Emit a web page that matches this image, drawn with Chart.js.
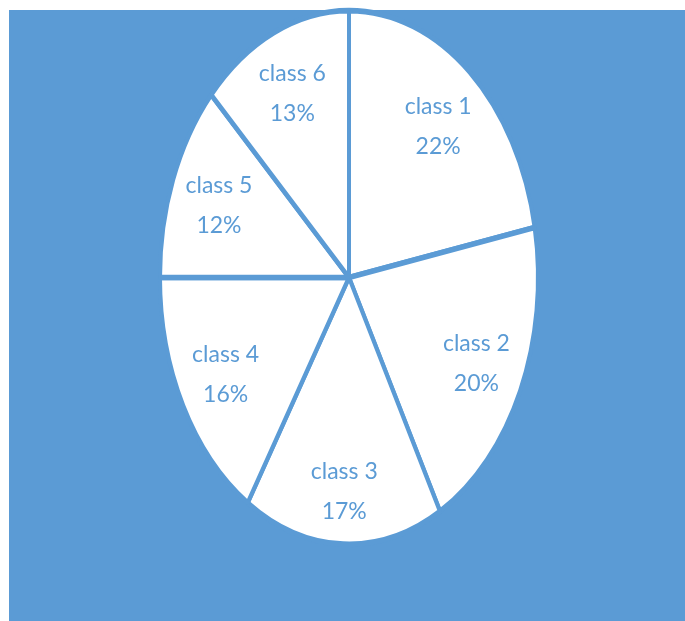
<!DOCTYPE html>
<html>
<head>
<meta charset="utf-8">
<script src="https://cdn.jsdelivr.net/npm/chart.js@4"></script>
<style>
    html, body { margin: 0; padding: 0; background: #ffffff; }
    #wrap { position: relative; width: 685px; height: 621px; }
    #bg { position: absolute; left: 9px; top: 10px; right: 0; bottom: 0; background: #5B9BD5; }
    #pieChart { position: absolute; left: 0; top: 0; }
</style>
</head>
<body>
<div id="wrap">
    <div id="bg"></div>
    <canvas id="pieChart" width="685" height="621"></canvas>
</div>
<script>
const categories = ['class 1', 'class 2', 'class 3', 'class 4', 'class 5', 'class 6'];
const shares = [22, 20, 17, 16, 12, 13];

const blue = '#5B9BD5';
const stretch = 264 / 187; // the pie in the picture is an upright ellipse
// how far out each label sits, as a share of the radius
const labelReach = [0.74, 0.745, 0.8, 0.745, 0.74, 0.755];

// squash the pie into an ellipse and write the labels inside each slice
const ellipsePlugin = {
    id: 'ellipse',
    beforeDatasetsDraw(chart) {
        const arc = chart.getDatasetMeta(0).data[0];
        const ctx = chart.ctx;
        ctx.save();
        ctx.translate(arc.x, arc.y);
        ctx.scale(1, stretch);
        ctx.translate(-arc.x, -arc.y);
    },
    afterDatasetsDraw(chart) {
        const ctx = chart.ctx;
        ctx.restore();
        ctx.save();
        ctx.fillStyle = blue;
        ctx.font = '23px Lato';
        ctx.textAlign = 'center';
        ctx.textBaseline = 'middle';
        chart.getDatasetMeta(0).data.forEach((arc, i) => {
            const p = arc.getProps(['x', 'y', 'startAngle', 'endAngle', 'outerRadius']);
            const mid = (p.startAngle + p.endAngle) / 2;
            const r = p.outerRadius * labelReach[i];
            const lx = p.x + Math.cos(mid) * r;
            const ly = p.y + Math.sin(mid) * r * stretch;
            ctx.fillText(categories[i], lx, ly - 19);
            ctx.fillText(shares[i] + '%', lx, ly + 21);
        });
        ctx.restore();
    }
};

new Chart(document.getElementById('pieChart').getContext('2d'), {
    type: 'pie',
    data: {
        labels: categories,
        datasets: [{
            data: shares,
            backgroundColor: '#ffffff',
            borderColor: blue,
            borderWidth: 4,
            clip: false
        }]
    },
    options: {
        responsive: false,
        animation: false,
        events: [],
        layout: { padding: { left: 158, right: 145, top: 86.5, bottom: 152.5 } },
        plugins: {
            legend: { display: false },
            tooltip: { enabled: false }
        }
    },
    plugins: [ellipsePlugin]
});
</script>
</body>
</html>
